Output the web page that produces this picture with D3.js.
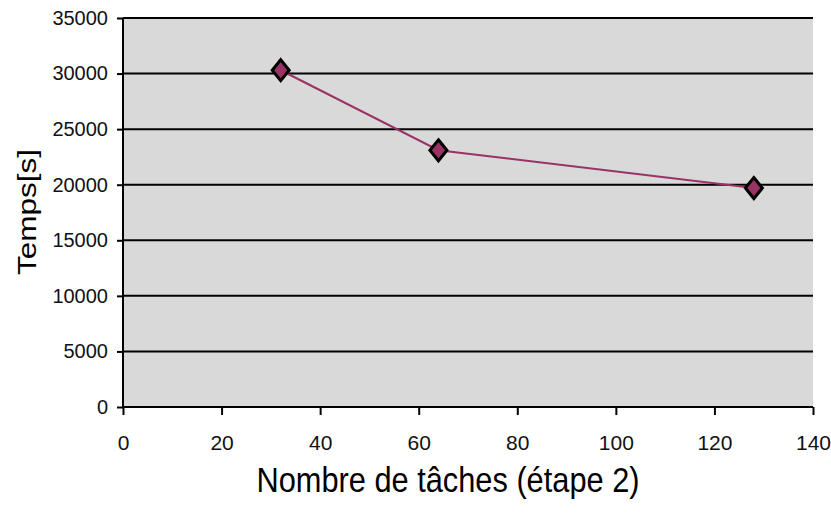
<!DOCTYPE html>
<html><head><meta charset="utf-8">
<script src="https://cdn.jsdelivr.net/npm/d3@7"></script>
<style>html,body{margin:0;padding:0;background:#fff;}svg{display:block;}</style>
</head><body>
<svg id="c" width="831" height="517"></svg>
<script>
const tasks = [32, 64, 128];
const times = [30300, 23100, 19700];
const xTicks = [0, 20, 40, 60, 80, 100, 120, 140];
const yTicks = [0, 5000, 10000, 15000, 20000, 25000, 30000, 35000];
const xTitle = "Nombre de tâches (étape 2)";
const yTitle = "Temps[s]";

const svg = d3.select("#c");
const L = 123, R = 813, T = 18, B = 407;
const x = d3.scaleLinear().domain([0, 140]).range([L, R]);
const y = d3.scaleLinear().domain([0, 35000]).range([B, T]);
const font = "'Liberation Sans', Arial, sans-serif";

svg.append("rect").attr("x", L).attr("y", T).attr("width", R - L).attr("height", B - T).attr("fill", "#d9d9d9");

// gridlines
svg.append("g").selectAll("line").data(yTicks.filter(d => d > 0)).join("line")
  .attr("x1", L).attr("x2", R).attr("y1", d => y(d)).attr("y2", d => y(d))
  .attr("stroke", "#000").attr("stroke-width", 2);

// y axis
const gy = svg.append("g").attr("transform", `translate(${L},0)`)
  .call(d3.axisLeft(y).tickValues(yTicks).tickFormat(d3.format("d")).tickSize(6).tickPadding(9));
gy.select(".domain").attr("stroke-width", 2).attr("d", `M0,${T}V${B}`);
gy.selectAll(".tick line").attr("stroke-width", 2);
gy.selectAll("text").attr("font-family", font).attr("font-size", 20).attr("fill", "#111");

// x axis
const gx = svg.append("g").attr("transform", `translate(0,${B})`)
  .call(d3.axisBottom(x).tickValues(xTicks).tickSize(8).tickPadding(20));
gx.select(".domain").attr("stroke-width", 2).attr("d", `M${L},0H${R}`);
gx.selectAll(".tick line").attr("stroke-width", 2);
gx.selectAll("text").attr("font-family", font).attr("font-size", 21).attr("fill", "#111");

// line
const pts = tasks.map((t, i) => [t, times[i]]);
svg.append("path").datum(pts)
  .attr("d", d3.line().x(d => x(d[0])).y(d => y(d[1])))
  .attr("fill", "none").attr("stroke", "#993366").attr("stroke-width", 2);

// markers
const hw = 8.5, hh = 10.5;
svg.append("g").selectAll("path").data(pts).join("path")
  .attr("transform", d => `translate(${x(d[0])},${y(d[1])})`)
  .attr("d", `M0,${-hh}L${hw},0L0,${hh}L${-hw},0Z`)
  .attr("fill", "#993366").attr("stroke", "#000").attr("stroke-width", 3).attr("stroke-linejoin", "miter");

// titles
svg.append("text").attr("x", 448).attr("y", 492).attr("text-anchor", "middle")
  .attr("font-family", font).attr("font-size", 35).attr("fill", "#000")
  .attr("textLength", 383).attr("lengthAdjust", "spacingAndGlyphs").text(xTitle);

svg.append("text").attr("transform", "translate(36,212) rotate(-90)").attr("text-anchor", "middle")
  .attr("font-family", font).attr("font-size", 26).attr("fill", "#000")
  .attr("textLength", 126).attr("lengthAdjust", "spacingAndGlyphs").text(yTitle);
</script>
</body></html>
